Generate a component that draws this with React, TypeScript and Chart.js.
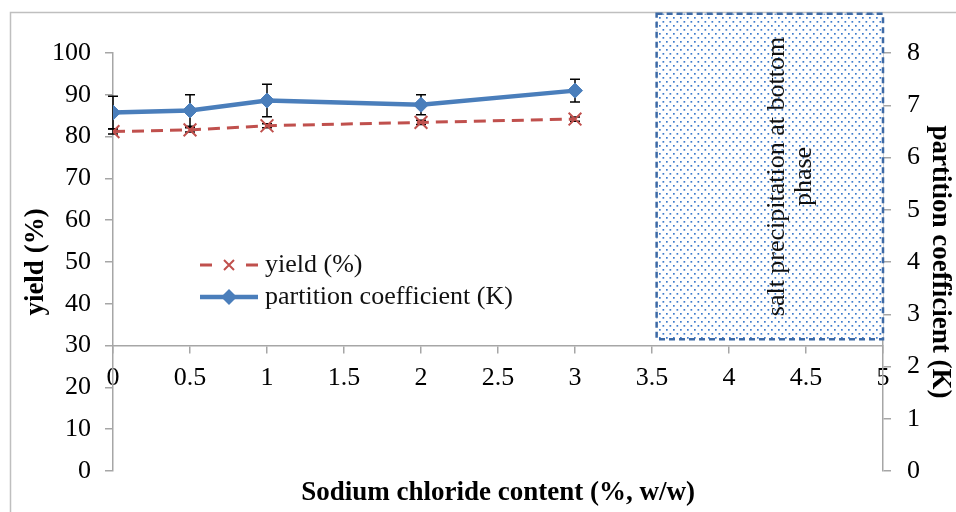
import React, { useEffect, useRef } from 'react';
import { Chart, registerables } from 'chart.js';

Chart.register(...registerables);

// ---- data ----
const saltContent = [0, 0.5, 1, 2, 3];
const yieldValues = [81.2, 81.6, 82.6, 83.4, 84.2];
const yieldErrors = [0.6, 0.5, 0.5, 0.5, 0.5];
const kValues = [6.86, 6.9, 7.09, 7.01, 7.28];
const kErrors = [0.31, 0.3, 0.31, 0.19, 0.22];

const xTickValues = [0, 0.5, 1, 1.5, 2, 2.5, 3, 3.5, 4, 4.5, 5];
const yieldTickValues = [0, 10, 20, 30, 40, 50, 60, 70, 80, 90, 100];
const kTickValues = [0, 1, 2, 3, 4, 5, 6, 7, 8];

const precipitationX = [3.53, 5];
const precipitationYield = [31.5, 109.4];
const precipitationLines = ['salt precipitation at bottom', 'phase'];

const seriesLabels = ['yield (%)', 'partition coefficient (K)'];
const xAxisTitle = 'Sodium chloride content (%, w/w)';
const leftAxisTitle = 'yield (%)';
const rightAxisTitle = 'partition coefficient (K)';
const xAxisCrossesAtYield = 30;

// ---- styles ----
const FONT = "'Liberation Serif', 'Times New Roman', serif";
const RED = '#c0504d';
const BLUE = '#4a7ebb';
const AXIS = '#a6a6a6';

function makePattern(): CanvasPattern | string {
  const c = document.createElement('canvas');
  c.width = 7;
  c.height = 8;
  const g = c.getContext('2d');
  if (!g) return '#dbe6f5';
  g.fillStyle = '#ffffff';
  g.fillRect(0, 0, 7, 8);
  g.fillStyle = '#3f7ccc';
  g.fillRect(1, 1, 1.7, 1.7);
  g.fillRect(4.5, 5, 1.7, 1.7);
  const ctx = document.createElement('canvas').getContext('2d');
  return (ctx && ctx.createPattern(c, 'repeat')) || '#dbe6f5';
}

function drawDiamond(ctx: CanvasRenderingContext2D, x: number, y: number, r: number) {
  ctx.beginPath();
  ctx.moveTo(x - r, y);
  ctx.lineTo(x, y - r);
  ctx.lineTo(x + r, y);
  ctx.lineTo(x, y + r);
  ctx.closePath();
  ctx.fill();
}

function drawCross(ctx: CanvasRenderingContext2D, x: number, y: number, r: number) {
  ctx.beginPath();
  ctx.moveTo(x - r, y - r);
  ctx.lineTo(x + r, y + r);
  ctx.moveTo(x + r, y - r);
  ctx.lineTo(x - r, y + r);
  ctx.stroke();
}

export default function App() {
  const canvasRef = useRef<HTMLCanvasElement | null>(null);

  useEffect(() => {
    const canvas = canvasRef.current;
    if (!canvas) return;
    const pattern = makePattern();

    const overlay = {
      id: 'overlay',
      beforeDraw(chart: any) {
        const ctx = chart.ctx as CanvasRenderingContext2D;
        ctx.save();
        ctx.strokeStyle = '#bfbfbf';
        ctx.lineWidth = 1.5;
        ctx.beginPath();
        ctx.moveTo(10.5, 600);
        ctx.lineTo(10.5, 12.5);
        ctx.lineTo(1000, 12.5);
        ctx.stroke();
        ctx.restore();
      },
      beforeDatasetsDraw(chart: any) {
        const ctx = chart.ctx as CanvasRenderingContext2D;
        const xs = chart.scales.x;
        const yl = chart.scales.yLeft;
        const yr = chart.scales.yRight;

        // precipitation region
        const x0 = xs.getPixelForValue(precipitationX[0]);
        const x1 = xs.getPixelForValue(precipitationX[1]);
        const y0 = yl.getPixelForValue(precipitationYield[1]);
        const y1 = yl.getPixelForValue(precipitationYield[0]);
        ctx.save();
        ctx.fillStyle = pattern as any;
        ctx.fillRect(x0, y0, x1 - x0, y1 - y0);
        ctx.setLineDash([6, 4]);
        ctx.strokeStyle = '#3d6aa6';
        ctx.lineWidth = 2.5;
        ctx.strokeRect(x0, y0, x1 - x0, y1 - y0);
        ctx.setLineDash([]);
        ctx.translate(x0 + (x1 - x0) * 0.59, (y0 + y1) / 2);
        ctx.rotate(-Math.PI / 2);
        ctx.font = `26px ${FONT}`;
        ctx.fillStyle = '#111';
        ctx.textAlign = 'center';
        ctx.textBaseline = 'middle';
        ctx.fillText(precipitationLines[0], 0, -13);
        ctx.fillText(precipitationLines[1], 0, 14);
        ctx.restore();

        // error bars
        ctx.save();
        ctx.strokeStyle = '#000';
        ctx.lineWidth = 1.5;
        const bar = (px: number, top: number, bot: number) => {
          ctx.beginPath();
          ctx.moveTo(px, top);
          ctx.lineTo(px, bot);
          ctx.moveTo(px - 5, top);
          ctx.lineTo(px + 5, top);
          ctx.moveTo(px - 5, bot);
          ctx.lineTo(px + 5, bot);
          ctx.stroke();
        };
        saltContent.forEach((xv, i) => {
          const px = xs.getPixelForValue(xv);
          bar(px, yr.getPixelForValue(kValues[i] + kErrors[i]), yr.getPixelForValue(kValues[i] - kErrors[i]));
          bar(px, yl.getPixelForValue(yieldValues[i] + yieldErrors[i]), yl.getPixelForValue(yieldValues[i] - yieldErrors[i]));
        });
        ctx.restore();
      },
      afterDraw(chart: any) {
        const ctx = chart.ctx as CanvasRenderingContext2D;
        const area = chart.chartArea;
        ctx.save();
        // legend
        const lx0 = area.left + 87;
        const lx1 = lx0 + 58;
        const mid = (lx0 + lx1) / 2;
        const row1 = area.top + 212;
        const row2 = area.top + 244;
        ctx.strokeStyle = RED;
        ctx.lineWidth = 3;
        ctx.setLineDash([12, 34]);
        ctx.beginPath();
        ctx.moveTo(lx0, row1);
        ctx.lineTo(lx1, row1);
        ctx.stroke();
        ctx.setLineDash([]);
        ctx.lineWidth = 2;
        drawCross(ctx, mid, row1, 5);
        ctx.strokeStyle = BLUE;
        ctx.lineWidth = 4.5;
        ctx.beginPath();
        ctx.moveTo(lx0, row2);
        ctx.lineTo(lx1, row2);
        ctx.stroke();
        ctx.fillStyle = BLUE;
        drawDiamond(ctx, mid, row2, 8);
        ctx.fillStyle = '#111';
        ctx.font = `26px ${FONT}`;
        ctx.textAlign = 'left';
        ctx.textBaseline = 'middle';
        ctx.fillText(seriesLabels[0], lx1 + 7, row1);
        ctx.fillText(seriesLabels[1], lx1 + 7, row2);

        // x-axis title
        ctx.font = `bold 27px ${FONT}`;
        ctx.textAlign = 'center';
        ctx.textBaseline = 'alphabetic';
        ctx.fillStyle = '#000';
        ctx.fillText(xAxisTitle, (area.left + area.right) / 2, area.bottom + 29);
        ctx.restore();
      },
    };

    const tickFont = { family: FONT, size: 26 };
    const chart = new Chart(canvas, {
      type: 'line',
      data: {
        datasets: [
          {
            label: seriesLabels[0],
            data: saltContent.map((x, i) => ({ x, y: yieldValues[i] })),
            yAxisID: 'yLeft',
            borderColor: RED,
            borderWidth: 3,
            borderDash: [12, 7],
            pointStyle: 'crossRot',
            pointRadius: 9,
            pointBorderColor: RED,
            pointBorderWidth: 2,
            fill: false,
            tension: 0,
          },
          {
            label: seriesLabels[1],
            data: saltContent.map((x, i) => ({ x, y: kValues[i] })),
            yAxisID: 'yRight',
            borderColor: BLUE,
            borderWidth: 4.5,
            pointStyle: 'rectRot',
            pointRadius: 7.5,
            pointBackgroundColor: BLUE,
            pointBorderColor: BLUE,
            pointBorderWidth: 1,
            fill: false,
            tension: 0,
          },
        ],
      },
      options: {
        animation: false,
        responsive: false,
        events: [],
        layout: { padding: { top: 53, bottom: 41, left: 0, right: 0 } },
        plugins: {
          legend: { display: false },
          tooltip: { enabled: false },
          title: { display: false },
        },
        scales: {
          x: {
            type: 'linear',
            min: 0,
            max: 5,
            position: { yLeft: xAxisCrossesAtYield } as any,
            afterBuildTicks: (s: any) => {
              s.ticks = xTickValues.map((v) => ({ value: v }));
            },
            ticks: {
              font: tickFont,
              color: '#000',
              padding: 10,
              maxRotation: 0,
              autoSkip: false,
              callback: (v: any) => String(v),
            },
            grid: { drawOnChartArea: false, drawTicks: true, tickLength: 7, color: AXIS, lineWidth: 1.5 },
            border: { display: true, color: AXIS, width: 1.5 },
          },
          yLeft: {
            type: 'linear',
            position: 'left',
            min: 0,
            max: 100,
            afterBuildTicks: (s: any) => {
              s.ticks = yieldTickValues.map((v) => ({ value: v }));
            },
            afterFit: (s: any) => {
              s.width = 113;
            },
            ticks: { font: tickFont, color: '#000', padding: 14, autoSkip: false },
            grid: { drawOnChartArea: false, drawTicks: true, tickLength: 8, color: AXIS, lineWidth: 1.5 },
            border: { display: true, color: AXIS, width: 1.5 },
            title: {
              display: true,
              text: leftAxisTitle,
              color: '#000',
              font: { family: FONT, size: 27, weight: 'bold' },
              padding: { top: 20, bottom: 0 },
            },
          },
          yRight: {
            type: 'linear',
            position: 'right',
            min: 0,
            max: 8,
            afterBuildTicks: (s: any) => {
              s.ticks = kTickValues.map((v) => ({ value: v }));
            },
            afterFit: (s: any) => {
              s.width = 73;
            },
            ticks: { font: tickFont, color: '#000', padding: 16, autoSkip: false },
            grid: { drawOnChartArea: false, drawTicks: true, tickLength: 8, color: AXIS, lineWidth: 1.5 },
            border: { display: true, color: AXIS, width: 1.5 },
            title: {
              display: true,
              text: rightAxisTitle,
              color: '#000',
              font: { family: FONT, size: 27, weight: 'bold' },
              padding: { top: 0, bottom: 0 },
            },
          },
        },
      } as any,
      plugins: [overlay],
    });

    return () => {
      chart.destroy();
    };
  }, []);

  return (
    <div style={{ position: 'absolute', left: 0, top: 0, width: 956, height: 512, background: '#fff', overflow: 'hidden' }}>
      <canvas ref={canvasRef} width={956} height={512} style={{ display: 'block' }} />
    </div>
  );
}
